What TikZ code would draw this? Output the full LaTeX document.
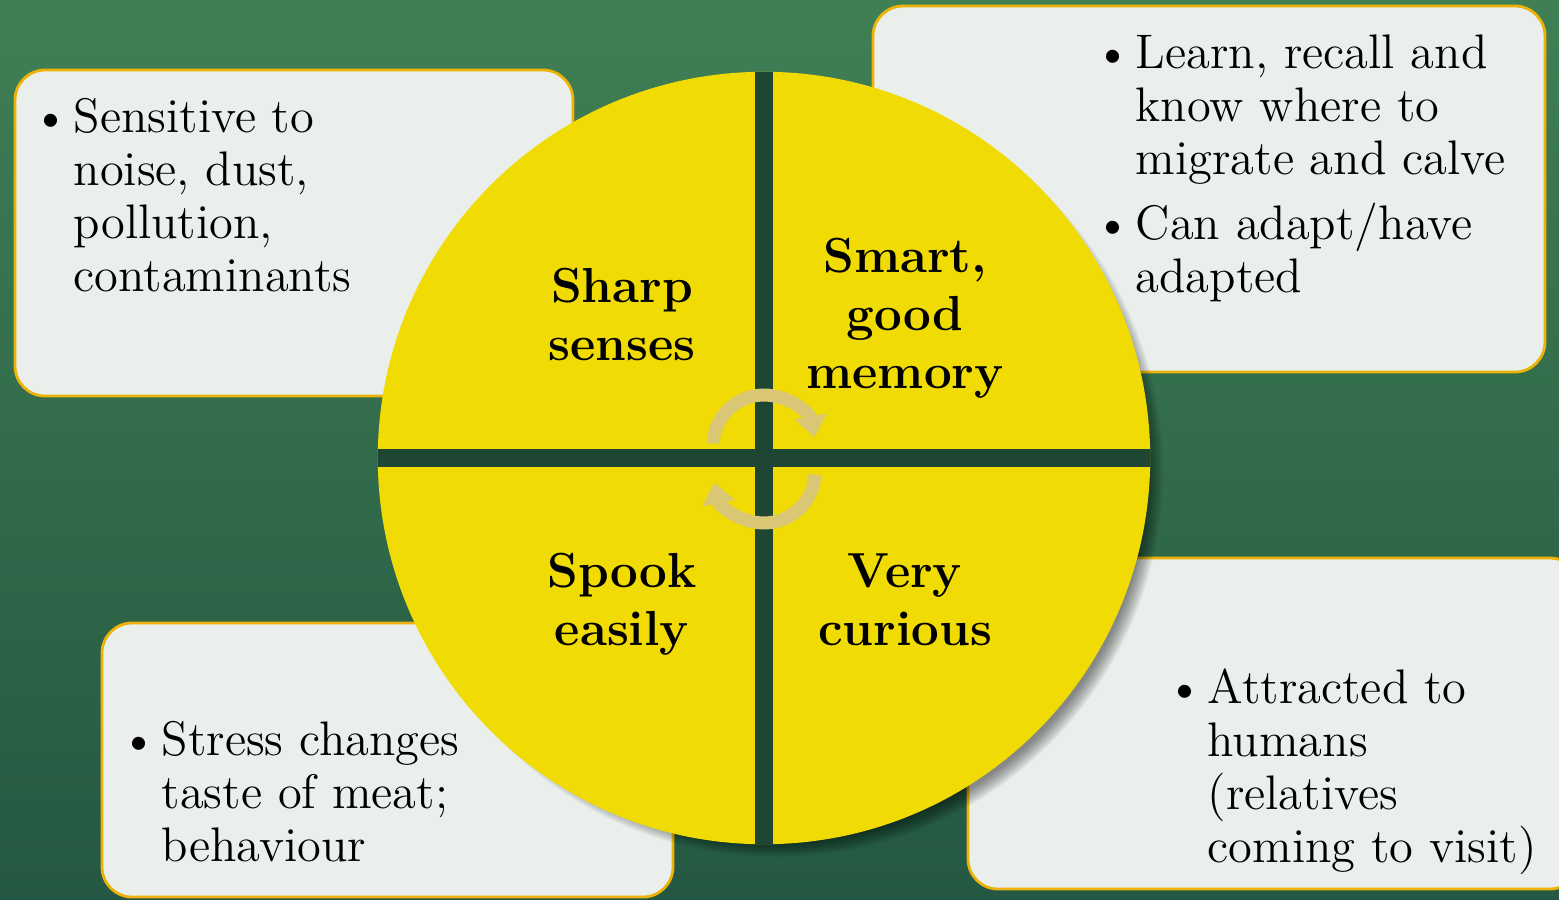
\documentclass[tikz,border=0pt]{standalone}
\usepackage{fontspec}
\usetikzlibrary{arrows.meta}
\definecolor{bgtop}{RGB}{64,127,84}
\definecolor{bgbot}{RGB}{36,88,66}
\definecolor{boxfill}{RGB}{234,239,236}
\definecolor{boxgold}{RGB}{236,178,8}
\definecolor{discyellow}{RGB}{240,219,4}
\definecolor{crossgreen}{RGB}{30,70,50}
\definecolor{arrowtan}{RGB}{217,199,118}
\newcommand{\bodysize}{\fontsize{13.8}{15.1}\selectfont}
\newcommand{\quadsize}{\fontsize{14}{16.5}\selectfont}
\begin{document}
\begin{tikzpicture}[x=0.01cm,y=-0.01cm,
  box/.style={draw=boxgold,line width=0.8pt,fill=boxfill,rounded corners=0.3cm},
  bodytext/.style={anchor=base west,inner sep=0pt,font=\bodysize},
  bul/.style={anchor=base,inner sep=0pt,font=\bodysize},
  quad/.style={anchor=base,inner sep=0pt,font=\bfseries\quadsize},
  cyc/.style={draw=arrowtan,line width=3.7pt,-{Triangle[width=9pt,length=6pt]}}]
\useasboundingbox (0,0) rectangle (1559,899);
\shade[top color=bgtop,bottom color=bgbot] (0,0) rectangle (1559,899);
\begin{scope}
\clip (0,0) rectangle (1559,899);
\draw[box] (15,70) rectangle (573,396);
\draw[box] (873,6) rectangle (1545,372);
\draw[box] (102,623) rectangle (673,897);
\draw[box] (968,558) rectangle (1580,889);
\end{scope}
% box texts
\node[bul] (b1) at (51,132) {\textbullet};
\node[bodytext] (t1) at (73,132) {\begin{tabular}[t]{@{}l@{}}Sensitive to\\noise, dust,\\pollution,\\contaminants\end{tabular}};
\node[bul] (b2) at (1113,68) {\textbullet};
\node[bodytext] (t2) at (1135,68) {\begin{tabular}[t]{@{}l@{}}Learn, recall and\\know where to\\migrate and calve\end{tabular}};
\node[bul] (b3) at (1113,239) {\textbullet};
\node[bodytext] (t3) at (1135,239) {\begin{tabular}[t]{@{}l@{}}Can adapt/have\\adapted\end{tabular}};
\node[bul] (b4) at (139,755) {\textbullet};
\node[bodytext] (t4) at (161,755) {\begin{tabular}[t]{@{}l@{}}Stress changes\\taste of meat;\\behaviour\end{tabular}};
\node[bul] (b5) at (1185,703) {\textbullet};
\node[bodytext] (t5) at (1207,703) {\begin{tabular}[t]{@{}l@{}}Attracted to\\humans\\(relatives\\coming to visit)\end{tabular}};
% shadow
\foreach \k in {0,...,11}
  \fill[black,opacity=0.045] (777,471) circle ({386-\k*1.3});
% disc
\node[circle,fill=discyellow,minimum size=7.72cm,inner sep=0pt] (disc) at (764,458) {};
\begin{scope}
\clip (764,458) circle (386);
\fill[crossgreen] (755,60) rectangle (773,860);
\fill[crossgreen] (370,449) rectangle (1160,467);
\end{scope}
% labels
\node[quad] (q1) at (622,302) {\begin{tabular}[t]{@{}c@{}}Sharp\\senses\end{tabular}};
\node[quad] (q2) at (905,272) {\begin{tabular}[t]{@{}c@{}}Smart,\\good\\memory\end{tabular}};
\node[quad] (q3) at (622,587) {\begin{tabular}[t]{@{}c@{}}Spook\\easily\end{tabular}};
\node[quad] (q4) at (905,587) {\begin{tabular}[t]{@{}c@{}}Very\\curious\end{tabular}};
% cycle arrows
\coordinate (ctop) at (764,446);
\coordinate (cbot) at (764,472);
\draw[cyc] (ctop) ++(183:51) arc[start angle=183,end angle=350,radius=51];
\draw[cyc] (cbot) ++(3:51) arc[start angle=3,end angle=168,radius=51];
\end{tikzpicture}
\end{document}
